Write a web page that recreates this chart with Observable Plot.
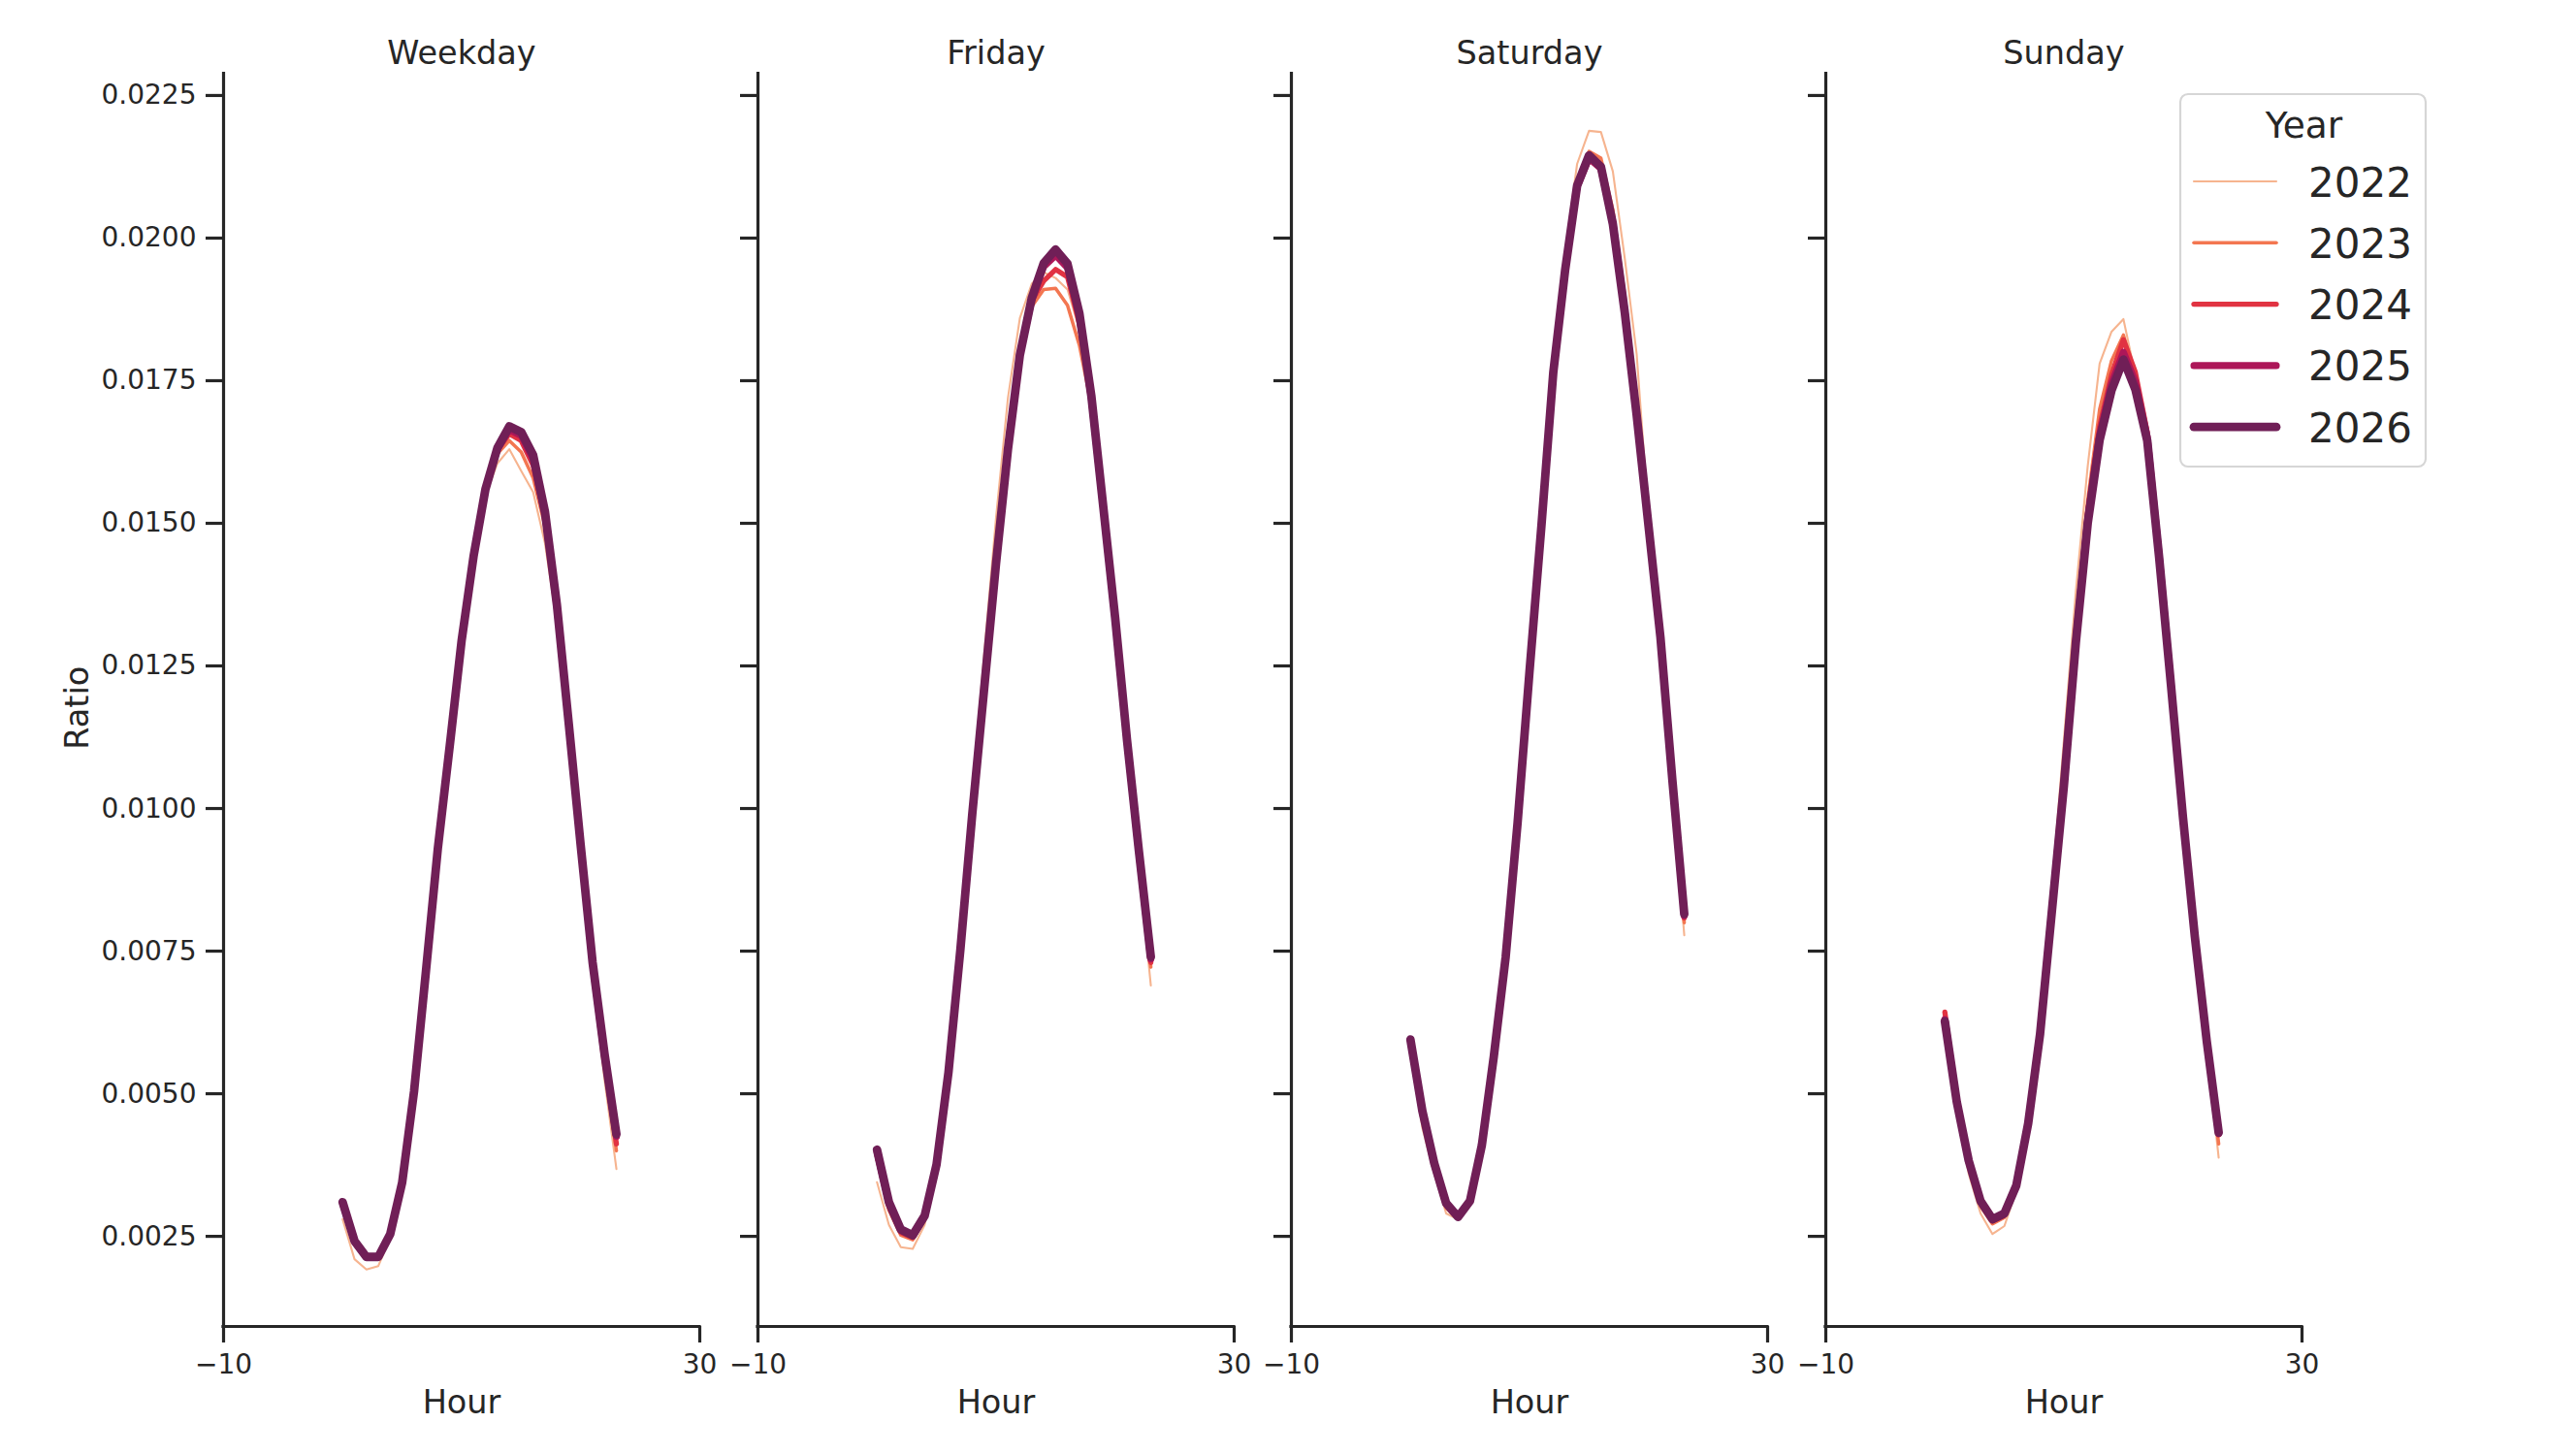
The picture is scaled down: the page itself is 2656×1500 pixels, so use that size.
<!DOCTYPE html>
<html>
<head>
<meta charset="utf-8">
<script src="https://cdn.jsdelivr.net/npm/d3@7"></script>
<script src="https://cdn.jsdelivr.net/npm/@observablehq/plot@0.6"></script>
<style>
html, body { margin: 0; padding: 0; background: #fff; }
#chart { position: relative; width: 2656px; height: 1500px; overflow: hidden; background: #fff;
  font-family: "DejaVu Sans", sans-serif; color: #262626; }
#chart .panel { position: absolute; top: 0; }
#chart svg { overflow: visible; }
</style>
</head>
<body>
<div id="chart"></div>
<script>
// ---------- data ----------
const hours = [0,1,2,3,4,5,6,7,8,9,10,11,12,13,14,15,16,17,18,19,20,21,22,23];
const years = [2022, 2023, 2024, 2025, 2026];
const panels = ["Weekday", "Friday", "Saturday", "Sunday"];
const yearColors = ["#f6b48f", "#f37651", "#e13342", "#ad1759", "#701f57"];
const yearWidths = [2.1, 3.5, 5.3, 7.1, 8.8];
const yTicks = [0.0025, 0.005, 0.0075, 0.01, 0.0125, 0.015, 0.0175, 0.02, 0.0225];
const xTicks = [-10, 30];

const weekday2022 = [0.00280,0.00210,0.00192,0.00198,0.00248,0.00340,0.00500,0.00712,0.00926,0.01106,0.01290,0.01436,0.01550,0.01605,0.01630,0.01592,0.01555,0.01465,0.01325,0.01125,0.00910,0.00700,0.00525,0.00368];
const weekday2023 = [0.00300,0.00235,0.00210,0.00210,0.00251,0.00342,0.00502,0.00713,0.00928,0.01108,0.01292,0.01439,0.01555,0.01622,0.01645,0.01625,0.01580,0.01495,0.01340,0.01135,0.00922,0.00715,0.00548,0.00400];
const weekday2024 = [0.00305,0.00239,0.00213,0.00213,0.00253,0.00343,0.00503,0.00714,0.00929,0.01109,0.01294,0.01441,0.01558,0.01628,0.01657,0.01645,0.01602,0.01508,0.01350,0.01143,0.00930,0.00723,0.00558,0.00412];
const weekday2025 = [0.00308,0.00241,0.00214,0.00214,0.00254,0.00344,0.00504,0.00715,0.00930,0.01110,0.01295,0.01442,0.01560,0.01630,0.01664,0.01654,0.01612,0.01515,0.01355,0.01147,0.00934,0.00728,0.00566,0.00425];
const weekday2026 = [0.00310,0.00242,0.00214,0.00214,0.00254,0.00344,0.00504,0.00715,0.00930,0.01110,0.01295,0.01442,0.01560,0.01632,0.01670,0.01660,0.01620,0.01520,0.01357,0.01148,0.00935,0.00730,0.00570,0.00429];

const friday2022 = [0.00345,0.00270,0.00231,0.00228,0.00270,0.00370,0.00540,0.00770,0.01030,0.01270,0.01510,0.01720,0.01860,0.01920,0.01940,0.01930,0.01910,0.01840,0.01710,0.01520,0.01320,0.01110,0.00900,0.00690];
const friday2023 = [0.00385,0.00296,0.00252,0.00244,0.00280,0.00373,0.00538,0.00757,0.01000,0.01228,0.01455,0.01660,0.01810,0.01880,0.01910,0.01912,0.01882,0.01812,0.01708,0.01522,0.01328,0.01112,0.00912,0.00722];
const friday2024 = [0.00392,0.00302,0.00257,0.00248,0.00283,0.00374,0.00537,0.00753,0.00993,0.01218,0.01440,0.01640,0.01800,0.01890,0.01925,0.01945,0.01932,0.01850,0.01715,0.01525,0.01330,0.01115,0.00918,0.00730];
const friday2025 = [0.00398,0.00308,0.00261,0.00251,0.00285,0.00375,0.00537,0.00752,0.00990,0.01212,0.01432,0.01632,0.01795,0.01892,0.01950,0.01970,0.01948,0.01862,0.01720,0.01528,0.01333,0.01118,0.00922,0.00736];
const friday2026 = [0.00402,0.00310,0.00262,0.00252,0.00286,0.00376,0.00537,0.00752,0.00990,0.01210,0.01430,0.01630,0.01795,0.01895,0.01956,0.01980,0.01955,0.01868,0.01724,0.01530,0.01335,0.01120,0.00925,0.00740];

const saturday2022 = [0.00590,0.00440,0.00360,0.00290,0.00280,0.00310,0.00410,0.00570,0.00750,0.00990,0.01250,0.01510,0.01780,0.01975,0.02130,0.02188,0.02186,0.02117,0.01965,0.01797,0.01510,0.01300,0.01040,0.00778];
const saturday2023 = [0.00592,0.00458,0.00370,0.00300,0.00281,0.00310,0.00410,0.00568,0.00745,0.00980,0.01245,0.01502,0.01772,0.01955,0.02100,0.02152,0.02140,0.02050,0.01900,0.01715,0.01500,0.01300,0.01045,0.00800];
const saturday2024 = [0.00592,0.00465,0.00375,0.00305,0.00283,0.00311,0.00410,0.00566,0.00742,0.00977,0.01242,0.01498,0.01768,0.01945,0.02088,0.02138,0.02122,0.02030,0.01878,0.01698,0.01498,0.01300,0.01048,0.00808];
const saturday2025 = [0.00594,0.00468,0.00377,0.00307,0.00284,0.00312,0.00410,0.00565,0.00740,0.00975,0.01240,0.01495,0.01765,0.01945,0.02090,0.02140,0.02122,0.02025,0.01872,0.01692,0.01496,0.01300,0.01050,0.00812];
const saturday2026 = [0.00595,0.00470,0.00378,0.00308,0.00284,0.00312,0.00410,0.00565,0.00740,0.00975,0.01240,0.01495,0.01765,0.01945,0.02092,0.02145,0.02125,0.02025,0.01870,0.01690,0.01495,0.01300,0.01050,0.00815];

const sunday2022 = [0.00620,0.00470,0.00360,0.00290,0.00254,0.00268,0.00330,0.00452,0.00625,0.00860,0.01120,0.01380,0.01600,0.01780,0.01836,0.01858,0.01760,0.01650,0.01440,0.01210,0.00980,0.00770,0.00580,0.00388];
const sunday2023 = [0.00632,0.00484,0.00377,0.00303,0.00272,0.00283,0.00336,0.00450,0.00615,0.00840,0.01075,0.01325,0.01540,0.01700,0.01785,0.01830,0.01762,0.01650,0.01445,0.01218,0.00985,0.00772,0.00585,0.00412];
const sunday2024 = [0.00643,0.00488,0.00381,0.00309,0.00277,0.00287,0.00338,0.00450,0.00610,0.00830,0.01055,0.01305,0.01520,0.01670,0.01760,0.01822,0.01765,0.01660,0.01450,0.01220,0.00987,0.00774,0.00588,0.00428];
const sunday2025 = [0.00630,0.00486,0.00382,0.00311,0.00279,0.00289,0.00339,0.00449,0.00607,0.00825,0.01045,0.01296,0.01508,0.01655,0.01745,0.01800,0.01748,0.01652,0.01445,0.01217,0.00986,0.00775,0.00590,0.00430];
const sunday2026 = [0.00627,0.00486,0.00383,0.00312,0.00280,0.00290,0.00339,0.00448,0.00605,0.00822,0.01040,0.01290,0.01500,0.01646,0.01733,0.01787,0.01735,0.01645,0.01440,0.01215,0.00985,0.00775,0.00592,0.00432];

const seriesByPanel = {
  Weekday:  [weekday2022, weekday2023, weekday2024, weekday2025, weekday2026],
  Friday:   [friday2022, friday2023, friday2024, friday2025, friday2026],
  Saturday: [saturday2022, saturday2023, saturday2024, saturday2025, saturday2026],
  Sunday:   [sunday2022, sunday2023, sunday2024, sunday2025, sunday2026]
};

const rows = [];
panels.forEach(p => seriesByPanel[p].forEach((vals, k) =>
  vals.forEach((v, h) => rows.push({panel: p, year: years[k], hour: hours[h], ratio: v}))));

// ---------- layout ----------
const INK = "#262626";
const PW = 491;             // panel inner width
const PSTEP = 550.5;        // distance between panel left spines
const AX0 = 230;            // first panel left spine
const TOP = 75.6, BOTTOM = 1367, H = 1500;
const yDomain = [0.00092, 0.02288];
const xDomain = [-10, 30];

const chart = document.getElementById("chart");

panels.forEach((name, i) => {
  const ml = i === 0 ? AX0 : 45;
  const mr = 45;
  const data = rows.filter(d => d.panel === name);
  const marks = [];
  years.forEach((yr, k) => {
    marks.push(Plot.line(data.filter(d => d.year === yr), {
      x: "hour", y: "ratio", stroke: "year",
      strokeWidth: yearWidths[k], strokeLinejoin: "round", strokeLinecap: "round"
    }));
  });
  marks.push(
    Plot.axisY({ticks: yTicks, tickSize: 18, tickPadding: 10,
      tickFormat: i === 0 ? d3.format(".4f") : () => "",
      strokeWidth: 3.2, color: INK, fontSize: 28, label: null}),
    Plot.axisX({ticks: xTicks, tickSize: 17, tickPadding: 12,
      tickFormat: d3.format("d"),
      strokeWidth: 3.2, color: INK, fontSize: 28, label: null}),
    Plot.ruleX([xDomain[0]], {stroke: INK, strokeWidth: 3.2, strokeLinecap: "square"}),
    Plot.ruleY([yDomain[0]], {stroke: INK, strokeWidth: 3.2, strokeLinecap: "square"}),
    Plot.text([name], {frameAnchor: "top", lineAnchor: "bottom", dy: -10, fontSize: 33.5, fill: INK}),
    Plot.text(["Hour"], {frameAnchor: "bottom", lineAnchor: "bottom", dy: 89, fontSize: 33.5, fill: INK})
  );
  if (i === 0) {
    marks.push(Plot.text(["Ratio"], {frameAnchor: "left", rotate: -90, lineAnchor: "bottom",
      textAnchor: "middle", dx: -140, dy: 8, fontSize: 33.5, fill: INK}));
  }
  const svg = Plot.plot({
    width: ml + PW + mr, height: H,
    marginLeft: ml, marginRight: mr, marginTop: TOP, marginBottom: H - BOTTOM,
    x: {domain: xDomain},
    y: {domain: yDomain},
    color: {domain: years, range: yearColors},
    style: {fontFamily: "DejaVu Sans, sans-serif", fontSize: "28px", color: INK,
            background: "transparent", overflow: "visible"},
    marks
  });
  const wrap = document.createElement("div");
  wrap.className = "panel";
  wrap.style.left = (AX0 + i * PSTEP - ml) + "px";
  wrap.appendChild(svg);
  chart.appendChild(wrap);
});

// ---------- legend ----------
const LX = 2248, LY = 97, LW = 253, LH = 384;
const leg = d3.select(chart).append("svg")
  .attr("width", LW + 4).attr("height", LH + 4)
  .style("position", "absolute").style("left", (LX - 2) + "px").style("top", (LY - 2) + "px")
  .style("font-family", "DejaVu Sans, sans-serif");
leg.append("rect").attr("x", 2).attr("y", 2).attr("width", LW).attr("height", LH)
  .attr("rx", 8).attr("fill", "#fff").attr("fill-opacity", 0.8)
  .attr("stroke", "#d6d6d6").attr("stroke-width", 2.2);
leg.append("text").attr("x", 2 + LW / 2 + 1).attr("y", 2 + 45).attr("text-anchor", "middle")
  .attr("font-size", 37.5).attr("fill", INK).text("Year");
years.forEach((yr, k) => {
  const cy = 2 + 90 + k * 63.3;
  leg.append("line").attr("x1", 2 + 14).attr("x2", 2 + 99).attr("y1", cy).attr("y2", cy)
    .attr("stroke", yearColors[k]).attr("stroke-width", yearWidths[k]).attr("stroke-linecap", "round");
  leg.append("text").attr("x", 2 + 132).attr("y", cy + 15.5)
    .attr("font-size", 42).attr("fill", INK).text(String(yr));
});
</script>
</body>
</html>
